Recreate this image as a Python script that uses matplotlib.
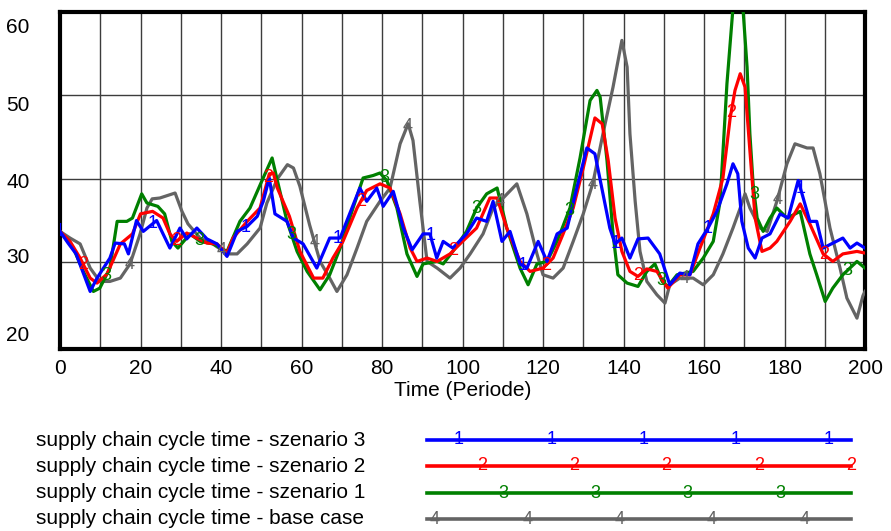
import numpy as np
import matplotlib
matplotlib.use("Agg")
import matplotlib.pyplot as plt
from matplotlib.lines import Line2D

plt.rcParams['font.family'] = ['Liberation Sans', 'DejaVu Sans']

# ---------------- data ----------------
t_s3 = [0, 2, 4, 7.5, 9.2, 12.4, 13.7, 16, 17, 19, 20.7, 24, 27.3, 29.8, 31.5, 34, 36.5, 39, 41.5, 44,
        46.5, 49, 50.5, 52, 53.4, 56.4, 58, 60.4, 63.8, 67, 69.6, 71.3, 74.5, 76.2, 78.7, 80.3, 82.8, 85.3,
        87.5, 90.2, 91.9, 93.6, 95.2, 97.6, 101, 103.5, 106, 107.6, 109.8, 111.8, 114.3, 116, 118.8, 121,
        123.5, 126, 128.4, 130.9, 132.9, 134.9, 136.6, 137.9, 139.6, 141.6, 143.6, 146.1, 149, 151.5, 154,
        156.5, 158.5, 161, 163.2, 165.7, 167.2, 168.4, 169.4, 171, 172.7, 174.4, 176.4, 178.9, 180.9, 183.4,
        186.3, 188, 189.6, 194.5, 196.3, 198, 200]
v_s3 = [33.7, 32.3, 31.0, 26.5, 28.1, 30.5, 32.3, 32.2, 31.0, 35.0, 33.7, 35.0, 31.7, 34.1, 32.8, 34.1, 32.8, 32.2, 30.7, 33.7,
        34.3, 35.5, 37.3, 40.1, 35.8, 34.9, 32.9, 32.2, 29.3, 32.9, 32.9, 35.0, 38.9, 37.3, 38.9, 36.7, 38.5, 34.1,
        31.5, 33.4, 33.4, 30.5, 32.5, 31.7, 33.4, 35.3, 34.9, 37.3, 32.5, 33.7, 29.8, 29.3, 32.5, 30.1,
        33.4, 34.1, 38.9, 43.7, 43.0, 38.2, 34.1, 32.2, 32.9, 30.5, 32.8, 32.9, 31.0, 27.3, 28.7,
        28.5, 32.2, 34.1, 36.1, 39.4, 41.8, 40.6, 34.9, 31.7, 30.5, 32.9, 33.4, 35.8, 35.3, 39.8,
        34.9, 34.9, 31.7, 32.9, 31.7, 32.3, 31.7]

t_s2 = [0, 2.5, 5, 7.5, 9.2, 11.7, 15, 18, 20, 23, 25.6, 27.3, 29, 31.5, 34, 36.5, 39, 41.5, 43, 46.5,
        49.7, 52, 53, 54, 57, 59.6, 63, 65.3, 67.8, 70.3, 73.8, 76.2, 79.5, 82, 84.5, 87, 88.7, 91.2, 93.7,
        96.9, 100, 103.5, 106.8, 108.6, 111, 114.3, 116.8, 120, 122.5, 125, 127.5, 130, 132.9, 134.7, 136.2,
        137.9, 139.6, 141.6, 143.6, 145.8, 148.3, 151, 154, 156.5, 159, 162.3, 164.7, 166.5, 167.7, 169,
        170.2, 171.4, 172.7, 174.4, 176.4, 178.1, 181.4, 183.9, 186.3, 189.6, 192, 194.5, 198, 200]
v_s2 = [33.7, 32.5, 30.5, 28.1, 27.5, 28.6, 32.2, 33.4, 35.8, 36.1, 35.3, 33.4, 32.5, 33.5, 32.9, 32.3, 32.2, 31.1, 32.9, 34.9,
        36.5, 40.6, 40.7, 38.9, 35.5, 31.3, 28.1, 28.1, 30.5, 32.5, 36.5, 38.6, 39.4, 38.9, 35.8, 31.7, 30.1, 30.5, 30.1,
        31.0, 32.5, 34.1, 37.7, 37.7, 34.1, 30.1, 28.9, 29.3, 30.5, 33.4, 36.5, 41.3, 47.3, 46.6, 42.2,
        35.3, 31.3, 28.9, 28.3, 29.2, 28.9, 26.9, 28.5, 28.5, 31.7, 35.8, 40.1, 47.3, 50.6, 52.6,
        51.0, 43.4, 35.3, 31.3, 31.7, 32.5, 34.9, 37.0, 34.6, 31.0, 30.1, 31.0, 31.3, 31.1]

t_s1 = [0, 3.3, 5.8, 8.3, 9.9, 12.4, 14.2, 16.6, 18, 20.3, 21.6, 24.3, 26, 27.8, 29.3, 32.3, 34.8, 38, 41.5, 44.7,
        47.2, 50.2, 52.7, 54, 56.4, 58.9, 61.4, 64.6, 67, 69.6, 72.8, 75.3, 77.8, 79.5, 81.2, 83.7, 86.2, 88.7,
        90.2, 93.7, 95.2, 97.6, 101, 103.5, 106, 108.6, 111, 114.3, 116.3, 118.5, 121, 123.5, 126.7, 129.2,
        131.7, 133.4, 134.2, 135.9, 137.4, 138.6, 140.9, 143.6, 145.8, 147.8, 149.6, 151, 153.3, 157.3, 159.8,
        162.3, 164, 165.7, 167.2, 168.5, 169.6, 170.7, 171.4, 172.2, 173.2, 174.7, 176.4, 178.1, 180.6, 183.9,
        186.3, 188, 190.1, 192, 194.5, 198, 200]
v_s1 = [33.7, 31.7, 28.9, 26.5, 26.9, 29.3, 34.9, 34.9, 35.3, 38.2, 37.1, 36.7, 35.8, 32.5, 31.7, 33.4, 32.5, 32.2, 31.3, 34.9,
        36.5, 39.8, 42.5, 39.8, 34.9, 31.3, 28.9, 26.7, 28.5, 31.7, 36.5, 40.1, 40.4, 40.7, 39.8, 36.5, 31.0, 28.3,
        29.8, 30.1, 29.8, 31.3, 33.7, 36.5, 38.2, 38.9, 34.1, 29.3, 27.3, 29.8, 30.1, 32.5, 36.5, 42.5,
        49.4, 50.6, 49.8, 42.2, 33.4, 28.5, 27.5, 27.1, 28.9, 29.8, 27.7, 27.1, 28.5, 28.9, 30.5,
        32.5, 37.3, 51.4, 60.5, 62.0, 61.0, 53.4, 45.4, 39.4, 35.3, 33.7, 35.3, 36.5, 35.3, 36.1,
        31.0, 28.5, 25.3, 26.9, 28.5, 30.1, 29.3]

t_base = [0, 2.5, 5, 7.5, 9.9, 12.4, 15, 17.4, 19.9, 21.6, 22.9, 24.8, 28.6, 30.3, 31.8, 34.8, 38, 41.5, 44, 46.5,
          49.7, 51.4, 54, 56.5, 58, 59.6, 62, 64.6, 67, 68.8, 71.3, 73.8, 76.2, 79.5, 82, 84.5, 86.5, 87.7, 89.4, 91.2,
          93.7, 96.9, 99.4, 101.9, 105.1, 107.6, 110.1, 113.5, 116, 118.5, 120, 122.5, 125, 127.5, 130, 132.4, 134.9,
          137.4, 139.6, 140.9, 141.6, 142.9, 144.1, 145.8, 148.3, 150.3, 151.5, 154, 157.3, 159.8, 162.3, 164.7,
          167.2, 169, 170.2, 171.4, 173.9, 175.7, 178.1, 180.6, 182.6, 185.6, 187.1, 188.8, 191.3, 193.8, 195.5,
          198, 199.5, 200]
v_base = [33.7, 32.9, 32.2, 29.3, 27.7, 27.7, 28.1, 29.8, 33.4, 36.5, 37.6, 37.7, 38.3, 36.1, 34.6, 32.9, 32.2, 31.0, 31.0, 32.2,
          34.1, 37.1, 40.0, 41.7, 41.3, 39.1, 34.5, 30.1, 28.1, 26.5, 28.5, 31.7, 34.9, 37.3, 38.9, 44.2, 46.6, 44.6, 37.3, 30.1,
          29.3, 28.1, 29.3, 31.0, 33.4, 36.5, 37.7, 39.4, 35.8, 31.0, 28.5, 28.1, 29.3, 32.5, 35.8, 39.5, 45.4,
          51.0, 56.6, 53.4, 45.4, 37.3, 31.3, 27.7, 26.1, 25.1, 27.3, 28.1, 28.1, 27.3, 28.5, 31.0,
          34.1, 36.5, 38.2, 36.5, 34.1, 33.7, 37.3, 41.8, 44.2, 43.7, 43.7, 40.6, 34.1, 29.3, 25.7,
          23.3, 26.0, 26.5]

series_names = ["supply chain cycle time - szenario 3",
                "supply chain cycle time - szenario 2",
                "supply chain cycle time - szenario 1",
                "supply chain cycle time - base case"]
series_ids = ["1", "2", "3", "4"]
series_colors = ["#0000ff", "#ff0000", "#008000", "#646464"]
series_t = [t_s3, t_s2, t_s1, t_base]
series_v = [v_s3, v_s2, v_s1, v_base]

x_ticks = [0, 20, 40, 60, 80, 100, 120, 140, 160, 180, 200]
y_tick_labels = ["60", "50", "40", "30", "20"]
x_label = "Time (Periode)"

# ---------------- figure ----------------
W, H = 891, 531
fig = plt.figure(figsize=(W / 100, H / 100), dpi=100)
ax = fig.add_axes([60 / W, 1 - 349 / H, 805 / W, 337 / H])
ax.set_xlim(0, 200)
ax.set_ylim(19.6, 60)

# grid
for gx in range(10, 200, 10):
    ax.axvline(gx, color="#3c3c3c", lw=1.0, zorder=1)
for gy in (30, 40, 50):
    ax.axhline(gy, color="#3c3c3c", lw=1.0, zorder=1)

marker_spacing = 23.0
for i in reversed(range(4)):
    t = np.array(series_t[i], dtype=float)
    v = np.array(series_v[i], dtype=float)
    ax.plot(t, v, color=series_colors[i], lw=2.3, zorder=3 + (3 - i), solid_joinstyle="round")
    offset = i * marker_spacing / 4
    mt = np.arange(offset, 200.01, marker_spacing)
    for m in mt:
        ax.text(m, np.interp(m, t, v), series_ids[i], color=series_colors[i], fontsize=13,
                ha="center", va="center", zorder=8, clip_on=True)

for s in ax.spines.values():
    s.set_linewidth(3)
    s.set_color("black")

ax.set_xticks(x_ticks)
ax.set_xticklabels([str(x) for x in x_ticks])
# Vensim-style label positions (slightly offset from grid lines)
ax.set_yticks([58.4, 49.0, 39.8, 30.8, 21.4])
ax.set_yticklabels(y_tick_labels)
ax.tick_params(axis="both", length=0, labelsize=15)
ax.tick_params(axis="x", pad=7)
ax.tick_params(axis="y", pad=22)

fig.text(463 / W, 1 - 391 / H, x_label, ha="center", va="center", fontsize=15)

# legend
rows_y = [440, 466, 493, 519]
legend_marker_start = [459, 482, 503, 435]
for i in range(4):
    yf = 1 - rows_y[i] / H
    fig.text(36 / W, yf, series_names[i], ha="left", va="center", fontsize=15)
    fig.add_artist(Line2D([427 / W, 851 / W], [yf, yf], color=series_colors[i], lw=2.6,
                          transform=fig.transFigure))
    for k in range(5):
        xm = legend_marker_start[i] + k * 92.3
        if xm <= 853:
            fig.text(xm / W, yf, series_ids[i], ha="center", va="center", fontsize=13,
                     color=series_colors[i])

fig.savefig("out.png", dpi=100)
